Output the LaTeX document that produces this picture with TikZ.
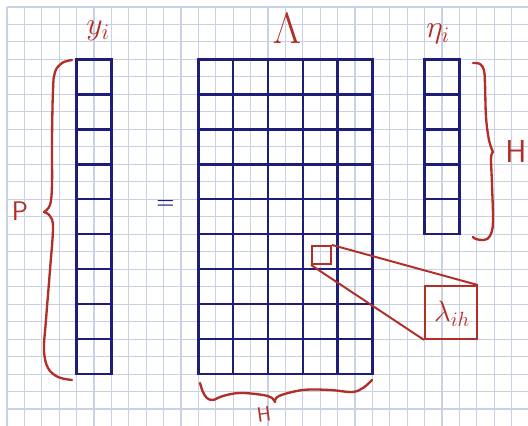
\documentclass[tikz,border=0pt]{standalone}
\usepackage{fix-cm}
\usepackage{tikz}
\usetikzlibrary{positioning}
\definecolor{gridblue}{RGB}{200,210,228}
\definecolor{navy}{RGB}{30,30,122}
\definecolor{inkred}{RGB}{178,46,38}

\begin{document}
\begin{tikzpicture}[
    x=0.5cm, y=0.5023cm,
    gridline/.style={draw=gridblue, line width=0.9pt},
    cellgrid/.style={draw=navy, line width=2pt},
    brace/.style={draw=inkred, line width=1.9pt, line cap=round, line join=round},
    zoombox/.style={rectangle, draw=inkred, line width=1.6pt, inner sep=0pt},
    zoomline/.style={draw=inkred, line width=1.6pt},
    lbl/.style={text=inkred, inner sep=0pt, font=\fontsize{26}{30}\selectfont}
]
    % paper
    \useasboundingbox (-0.402,0.400) rectangle (29.943,-23.970);
    \fill[white] (-0.402,0.400) rectangle (29.943,-23.970);
    \foreach \i in {0,...,29}
        \draw[gridline] (\i,0) -- (\i,-23.97);
    \foreach \j in {0,...,23}
        \draw[gridline] (0,-\j) -- (29.943,-\j);

    % y_i
    \draw[cellgrid] (4,-3) rectangle (6,-21);
    \foreach \r in {1,...,8}
        \draw[cellgrid] (4,{-3-2*\r}) -- (6,{-3-2*\r});
    % Lambda
    \draw[cellgrid] (11,-3) rectangle (21,-21);
    \foreach \r in {1,...,8}
        \draw[cellgrid] (11,{-3-2*\r}) -- (21,{-3-2*\r});
    \foreach \c in {1,...,4}
        \draw[cellgrid] ({11+2*\c},-3) -- ({11+2*\c},-21);
    % eta_i
    \draw[cellgrid] (24,-3) rectangle (26,-13);
    \foreach \r in {1,...,4}
        \draw[cellgrid] (24,{-3-2*\r}) -- (26,{-3-2*\r});

    % Labels
    \node[lbl] (ylabel) at (5.23,-1.37) {$y_i$};
    \node[lbl, font=\fontsize{36}{40}\selectfont] (lamlabel) at (16.09,-1.2) {$\Lambda$};
    \node[lbl] (etalabel) at (24.77,-1.55) {$\eta_i$};
    \node[text=navy, inner sep=0pt, font=\bfseries\fontsize{17}{20}\selectfont] (eq) at (9.11,-11.27) {=};

    % Braces
    \draw[brace] plot[smooth, tension=0.6] coordinates {(3.736,-3.032) (3.161,-3.204) (2.759,-3.719) (2.644,-4.748) (2.586,-7.609) (2.586,-10.183) (2.471,-11.327) (2.126,-11.728)};
    \draw[brace] plot[smooth, tension=0.6] coordinates {(2.126,-11.728) (2.471,-11.957) (2.644,-12.643) (2.471,-15.046) (2.241,-17.906) (2.126,-19.622) (2.356,-20.652) (2.931,-21.167) (3.736,-21.339)};
    \node[lbl, font=\sffamily\fontsize{22}{26}\selectfont] (plabel) at (0.75,-11.67) {P};

    \draw[brace] plot[smooth, tension=0.6] coordinates {(26.78,-3.204) (27.18,-3.261) (27.41,-3.604) (27.47,-4.348) (27.53,-6.293) (27.70,-7.609) (27.93,-8.295)};
    \draw[brace] plot[smooth, tension=0.6] coordinates {(27.93,-8.295) (27.82,-8.638) (27.87,-10.069) (27.93,-12.300) (27.76,-13.101) (27.41,-13.330) (26.95,-13.272) (26.78,-13.158)};
    \node[lbl, font=\sffamily\fontsize{26}{30}\selectfont] (hright) at (29.25,-8.24) {H};

    \draw[brace] plot[smooth, tension=0.6] coordinates {(11.09,-21.510) (11.26,-22.025) (11.49,-22.368) (11.84,-22.483) (12.41,-22.254) (13.39,-22.082) (14.71,-22.197) (15.23,-22.368) (15.40,-22.597)};
    \draw[brace] plot[smooth, tension=0.6] coordinates {(15.40,-22.597) (15.63,-22.254) (17.01,-21.911) (18.56,-21.911) (19.83,-22.025) (20.46,-21.796) (20.98,-21.339)};
    \node[lbl, font=\sffamily\fontsize{17}{20}\selectfont, rotate=8] (hbottom) at (14.77,-23.28) {H};

    % Zoom on one entry
    \node[zoombox, minimum width=0.546cm, minimum height=0.52cm] (entry) at (18.075,-14.188) {};
    \node[zoombox, minimum width=1.494cm, minimum height=1.52cm] (entrybig) at (25.517,-17.477) {};
    \node[lbl, font=\fontsize{24}{28}\selectfont] (entrylabel) at (25.57,-17.56) {$\lambda_{ih}$};
    \draw[zoomline] (entry.north east) -- (entrybig.north east);
    \draw[zoomline] (entry.south west) -- (entrybig.south west);
\end{tikzpicture}
\end{document}
